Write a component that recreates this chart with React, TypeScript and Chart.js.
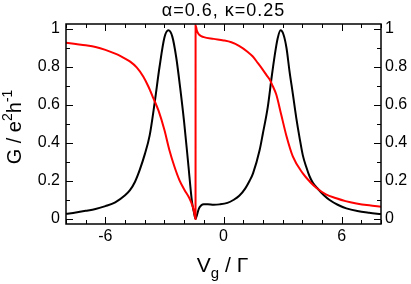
import React, { useEffect, useRef } from "react";
import { Chart, registerables } from "chart.js";

Chart.register(...registerables);

const FONT = '"Liberation Sans", Arial, Helvetica, sans-serif';

const titleText = "α=0.6, κ=0.25";

// black curve
const blackX = [-8, -7.5, -7, -6.5, -6, -5.5, -5, -4.75, -4.5, -4.25, -4, -3.75, -3.5, -3.25, -3, -2.8, -2.6, -2.4, -2.2, -2, -1.8, -1.6, -1.5, -1.42, -1.35, -1.25, -1.13, -1, -0.8, -0.5, -0.2, 0.2, 0.5, 0.8, 1.1, 1.32, 1.5, 1.83, 2, 2.25, 2.45, 2.6, 2.75, 2.9, 3.05, 3.2, 3.35, 3.52, 3.7, 3.86, 4.03, 4.2, 4.37, 4.54, 4.8, 5.1, 5.39, 5.8, 6.24, 6.8, 7.4, 8];
const blackY = [0.027, 0.034, 0.043, 0.053, 0.068, 0.088, 0.125, 0.152, 0.195, 0.26, 0.34, 0.44, 0.61, 0.8, 0.955, 0.993, 0.96, 0.85, 0.69, 0.51, 0.3, 0.09, 0.035, 0, 0.02, 0.055, 0.072, 0.078, 0.078, 0.075, 0.077, 0.085, 0.1, 0.122, 0.16, 0.2, 0.24, 0.36, 0.45, 0.59, 0.75, 0.86, 0.95, 0.993, 0.97, 0.9, 0.78, 0.66, 0.53, 0.43, 0.335, 0.275, 0.225, 0.19, 0.158, 0.125, 0.1, 0.075, 0.056, 0.042, 0.033, 0.026];

// red curve (with the vertical jump at Vg ≈ -1.42)
const redX = [-8, -7.5, -7, -6.5, -6, -5.5, -5.25, -5, -4.74, -4.41, -4.07, -3.81, -3.56, -3.3, -3, -2.75, -2.49, -2.24, -1.98, -1.73, -1.56, -1.47, -1.42, -1.418, -1.35, -1.25, -1.13, -1, -0.5, 0, 0.4, 0.81, 1.2, 1.49, 1.75, 2, 2.2, 2.34, 2.5, 2.68, 2.93, 3.19, 3.52, 4.03, 4.4, 4.71, 5.2, 5.73, 6.2, 6.75, 7.4, 8];
const redY = [0.928, 0.921, 0.914, 0.905, 0.89, 0.87, 0.858, 0.844, 0.828, 0.798, 0.749, 0.696, 0.635, 0.57, 0.468, 0.363, 0.275, 0.205, 0.153, 0.109, 0.065, 0.025, 0, 1.02, 0.99, 0.972, 0.963, 0.957, 0.948, 0.94, 0.93, 0.91, 0.882, 0.855, 0.82, 0.785, 0.755, 0.735, 0.7, 0.655, 0.55, 0.44, 0.33, 0.24, 0.195, 0.165, 0.13, 0.109, 0.094, 0.082, 0.072, 0.065];

// axes
const xMin = -8;
const xMax = 8;
const xLabelValues = [-6, 0, 6];
const xTickLabels = ["-6", "0", "6"];
const xMinorValues = [-8, -7, -6, -5, -4, -3, -2, -1, 0, 1, 2, 3, 4, 5, 6, 7, 8];
const yMin = -0.0263;
const yMax = 1.0263;
const yLabelValues = [0, 0.2, 0.4, 0.6, 0.8, 1];
const yTickLabels = ["0", "0.2", "0.4", "0.6", "0.8", "1"];
const yMinorValues = [0, 0.1, 0.2, 0.3, 0.4, 0.5, 0.6, 0.7, 0.8, 0.9, 1];

type Run = { text: string; size: number; dy: number };
const xTitleRuns: Run[] = [
  { text: "V", size: 21, dy: 0 },
  { text: "g", size: 15, dy: 6 },
  { text: " / Γ", size: 21, dy: 0 },
];
const yTitleRuns: Run[] = [
  { text: "G / e", size: 20, dy: 0 },
  { text: "2", size: 14, dy: -9 },
  { text: "h", size: 20, dy: 0 },
  { text: "-1", size: 14, dy: -9 },
];

function drawRuns(ctx: CanvasRenderingContext2D, runs: Run[], cx: number, baseY: number) {
  let total = 0;
  for (const r of runs) {
    ctx.font = `${r.size}px ${FONT}`;
    total += ctx.measureText(r.text).width;
  }
  let x = cx - total / 2;
  ctx.textAlign = "left";
  for (const r of runs) {
    ctx.font = `${r.size}px ${FONT}`;
    ctx.fillText(r.text, x, baseY + r.dy);
    x += ctx.measureText(r.text).width;
  }
}

const framePlugin = {
  id: "frameTicks",
  afterDatasetsDraw(chart: any) {
    const ctx: CanvasRenderingContext2D = chart.ctx;
    const { left, right, top, bottom } = chart.chartArea;
    const xs = chart.scales.x;
    const ys = chart.scales.y;
    ctx.save();
    ctx.strokeStyle = "#000";
    ctx.lineWidth = 1;
    ctx.beginPath();
    for (const v of xMinorValues) {
      const px = Math.round(xs.getPixelForValue(v)) + 0.5;
      const len = xLabelValues.includes(v) ? 7 : 4;
      ctx.moveTo(px, bottom);
      ctx.lineTo(px, bottom - len);
      ctx.moveTo(px, top);
      ctx.lineTo(px, top + len);
    }
    yMinorValues.forEach((v, i) => {
      const py = Math.round(ys.getPixelForValue(v)) + 0.5;
      const len = i % 2 === 0 ? 7 : 4;
      ctx.moveTo(left, py);
      ctx.lineTo(left + len, py);
      ctx.moveTo(right, py);
      ctx.lineTo(right - len, py);
    });
    ctx.stroke();
    ctx.lineWidth = 1.5;
    ctx.strokeRect(left, top, right - left, bottom - top);
    ctx.restore();
  },
};

const textPlugin = {
  id: "texts",
  afterDraw(chart: any) {
    const ctx: CanvasRenderingContext2D = chart.ctx;
    const { left, right, top, bottom } = chart.chartArea;
    const cx = (left + right) / 2;
    ctx.save();
    ctx.fillStyle = "#000";
    ctx.textBaseline = "alphabetic";
    ctx.font = `18px ${FONT}`;
    ctx.textAlign = "left";
    (ctx as any).letterSpacing = "1px";
    const tw = ctx.measureText(titleText).width;
    ctx.fillText(titleText, cx - tw / 2, 16);
    (ctx as any).letterSpacing = "0px";
    drawRuns(ctx, xTitleRuns, cx - 1, 272);
    ctx.translate(20.5, (top + bottom) / 2 + 3);
    ctx.rotate(-Math.PI / 2);
    drawRuns(ctx, yTitleRuns, 0, 0);
    ctx.restore();
  },
};

export default function App() {
  const ref = useRef<HTMLCanvasElement>(null);
  useEffect(() => {
    const tickFont = { family: FONT, size: 16 };
    const chart = new Chart(ref.current as HTMLCanvasElement, {
      type: "scatter",
      data: {
        datasets: [
          {
            label: "red",
            data: redX.map((x, i) => ({ x, y: redY[i] })),
            showLine: true,
            borderColor: "#ff0000",
            borderWidth: 2,
            pointRadius: 0,
            cubicInterpolationMode: "monotone",
            yAxisID: "y",
          },
          {
            label: "black",
            data: blackX.map((x, i) => ({ x, y: blackY[i] })),
            showLine: true,
            borderColor: "#000000",
            borderWidth: 2,
            pointRadius: 0,
            cubicInterpolationMode: "monotone",
            yAxisID: "y",
          },
        ],
      },
      options: {
        responsive: false,
        animation: false,
        devicePixelRatio: 1,
        layout: { padding: { top: 24, left: 0, right: 0, bottom: 0 } },
        plugins: { legend: { display: false }, tooltip: { enabled: false }, title: { display: false } },
        scales: {
          x: {
            type: "linear",
            position: "bottom",
            min: xMin,
            max: xMax,
            afterBuildTicks: (s: any) => {
              s.ticks = xLabelValues.map((v) => ({ value: v }));
            },
            ticks: {
              font: tickFont,
              color: "#000",
              padding: 3,
              maxRotation: 0,
              autoSkip: false,
              callback: (_v: any, i: number) => xTickLabels[i],
            },
            grid: { display: false, drawTicks: false, tickLength: 0 },
            border: { display: false },
            afterFit: (s: any) => {
              s.height = 60;
            },
          },
          y: {
            type: "linear",
            position: "left",
            min: yMin,
            max: yMax,
            afterBuildTicks: (s: any) => {
              s.ticks = yLabelValues.map((v) => ({ value: v }));
            },
            ticks: {
              font: tickFont,
              color: "#000",
              padding: 6,
              autoSkip: false,
              callback: (_v: any, i: number) => yTickLabels[i],
            },
            grid: { display: false, drawTicks: false, tickLength: 0 },
            border: { display: false },
            afterFit: (s: any) => {
              s.width = 66;
            },
          },
          y2: {
            type: "linear",
            position: "right",
            min: yMin,
            max: yMax,
            afterBuildTicks: (s: any) => {
              s.ticks = yLabelValues.map((v) => ({ value: v }));
            },
            ticks: {
              font: tickFont,
              color: "#000",
              padding: 4,
              autoSkip: false,
              callback: (_v: any, i: number) => yTickLabels[i],
            },
            grid: { display: false, drawTicks: false, tickLength: 0 },
            border: { display: false },
            afterFit: (s: any) => {
              s.width = 30;
            },
          },
        },
      } as any,
      plugins: [framePlugin, textPlugin],
    });
    return () => chart.destroy();
  }, []);
  return (
    <div style={{ position: "fixed", left: 0, top: 0, width: 411, height: 284, background: "#fff" }}>
      <canvas ref={ref} width={411} height={284} style={{ width: 411, height: 284, display: "block" }} />
    </div>
  );
}
